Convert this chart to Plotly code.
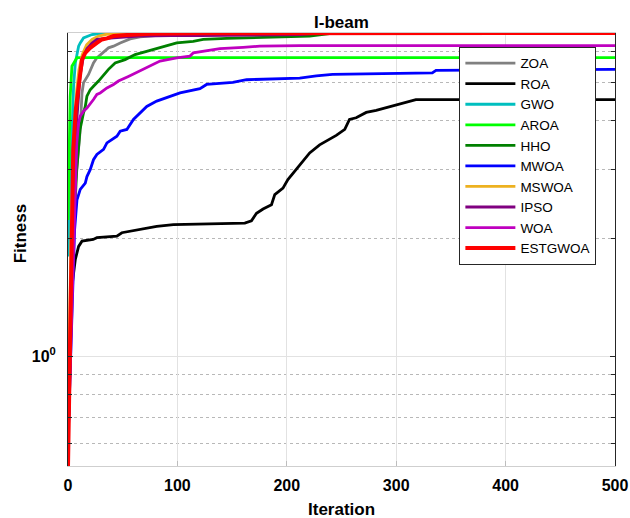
import plotly.graph_objects as go
import math

# ---------------- data ----------------
names = ["ZOA", "ROA", "GWO", "AROA", "HHO", "MWOA", "MSWOA", "IPSO", "WOA", "ESTGWOA"]
colors = ["#808080", "#000000", "#00BFBF", "#00FF00", "#008000", "#0000FF",
          "#EDB120", "#800080", "#BF00BF", "#FF0000"]

zoa_it = [0, 3, 6, 9.7, 11.2, 12.8, 14.2, 18.8, 23.3, 26.4, 32.5, 37, 41.6, 47.7, 56.8, 65.9, 79.6, 90.2, 120.6, 200, 500]
zoa_v = [0.6, 1.6, 2.6, 3.44, 3.8, 4.71, 5.0, 5.25, 5.62, 5.79, 6.01, 6.14, 6.2, 6.32, 6.47, 6.55, 6.6, 6.66, 6.69, 6.70, 6.70]

roa_it = [0, 3.6, 6.7, 9.7, 12.8, 23, 26.4, 44.7, 49.2, 65.9, 81.1, 96.3, 120.6, 161.6, 167.7, 172.3, 178.3, 186,
          189, 196.5, 201, 207.2, 213.3, 220.9, 230, 239, 245.2, 253, 257.3, 263.4, 272.6, 281.7, 293.8, 318, 500]
roa_v = [0.6, 1.51, 1.77, 1.91, 1.97, 1.99, 2.01, 2.03, 2.07, 2.11, 2.15, 2.17, 2.18, 2.19, 2.22, 2.32, 2.38, 2.44,
         2.59, 2.69, 2.83, 2.97, 3.12, 3.31, 3.47, 3.58, 3.67, 3.80, 4.03, 4.07, 4.20, 4.25, 4.34, 4.53, 4.53]

gwo_it = [0, 2, 4, 5.1, 6.7, 9.7, 11.2, 14.2, 21.9, 31, 48, 500]
gwo_v = [1.8, 2.8, 4.0, 4.9, 5.62, 6.2, 6.32, 6.51, 6.64, 6.69, 6.70, 6.70]

aroa_it = [0, 1, 2, 3.6, 5.5, 8.2, 500]
aroa_v = [2.23, 3.5, 4.6, 5.51, 5.65, 5.80, 5.80]

hho_it = [0, 4, 8, 11, 14.2, 15.8, 17.3, 20.3, 23.3, 27.9, 37, 43.1, 52.2, 61.3, 73.5, 85.7, 99.4, 114.5,
          123.6, 144.9, 160, 190.5, 220.9, 239, 500]
hho_v = [0.6, 1.8, 3.0, 3.8, 4.19, 4.35, 4.62, 4.8, 4.9, 5.05, 5.41, 5.62, 5.73, 5.9, 6.03, 6.17, 6.32, 6.38,
         6.45, 6.49, 6.51, 6.55, 6.58, 6.68, 6.70]

mwoa_it = [0, 3, 6, 8.2, 11.2, 15.8, 17.3, 20.3, 23.3, 26.4, 32.5, 35.6, 44.7, 47.7, 53.8, 59.8, 62.9, 72,
           81.1, 96.3, 102.4, 120.6, 126.7, 150.7, 163.2, 211.8, 227, 241.8, 333, 336.4, 500]
mwoa_v = [0.6, 1.2, 2.1, 2.51, 2.67, 2.77, 2.88, 3.0, 3.18, 3.28, 3.38, 3.51, 3.65, 3.76, 3.8, 4.03, 4.11, 4.35,
          4.49, 4.65, 4.71, 4.83, 4.95, 5.01, 5.09, 5.14, 5.21, 5.25, 5.30, 5.38, 5.41]

mswoa_it = [0, 3, 5, 8, 10, 13, 17, 22, 28, 35, 50, 500]
mswoa_v = [0.7, 2.2, 3.5, 4.8, 5.4, 5.9, 6.25, 6.45, 6.58, 6.65, 6.69, 6.70]

ipso_it = [0, 5, 8, 11, 14.2, 17.3, 21.9, 26.4, 41.6, 64.4, 94.8, 120.6, 211.8, 227, 500]
ipso_v = [0.6, 2.5, 4.0, 5.2, 5.85, 6.11, 6.32, 6.45, 6.51, 6.58, 6.60, 6.60, 6.64, 6.69, 6.70]

woa_it = [0, 5, 8, 9.7, 11.2, 14.2, 17.3, 23.3, 26.4, 29.4, 35.6, 41.6, 46.1, 55.2, 68.9, 78, 84.1, 99.4,
          111.5, 114.5, 129.7, 138.8, 160, 175.3, 211.8, 500]
woa_v = [0.6, 2.0, 3.5, 3.95, 4.11, 4.23, 4.31, 4.53, 4.67, 4.71, 4.85, 4.95, 5.05, 5.19, 5.41, 5.57, 5.68, 5.79,
         5.85, 5.96, 6.04, 6.11, 6.16, 6.2, 6.22, 6.22]

estgwoa_it = [0, 3.6, 4.8, 7.1, 9.7, 10.8, 12.8, 15.8, 20.3, 26.4, 31, 35.6, 41.6, 53.8, 75, 120, 250, 500]
estgwoa_v = [0.525, 1.99, 3.38, 4.27, 4.9, 5.25, 5.73, 5.96, 6.14, 6.32, 6.45, 6.49, 6.58, 6.62, 6.67, 6.69, 6.70, 6.70]

x_ticks = [0, 100, 200, 300, 400, 500]
y_major = [1]
y_minor = [0.6, 0.7, 0.8, 0.9, 2, 3, 4, 5, 6]

series_it = [zoa_it, roa_it, gwo_it, aroa_it, hho_it, mwoa_it, mswoa_it, ipso_it, woa_it, estgwoa_it]
series_v = [zoa_v, roa_v, gwo_v, aroa_v, hho_v, mwoa_v, mswoa_v, ipso_v, woa_v, estgwoa_v]

# ---------------- figure ----------------
fig = go.Figure()
for nm, col, xs, ys in zip(names, colors, series_it, series_v):
    fig.add_trace(go.Scatter(x=xs, y=ys, name=nm, mode="lines",
                             line=dict(color=col, width=4 if nm == "ESTGWOA" else 2.8)))

all_v = [v for s in series_v for v in s]
ymin, ymax = min(all_v), max(all_v)

FONT = "Liberation Sans, Arial, sans-serif"
fig.update_layout(
    width=630, height=518,
    margin=dict(l=68, r=15, t=33, b=52, autoexpand=False),
    paper_bgcolor="white", plot_bgcolor="white",
    font=dict(family=FONT, size=16, color="black"),
    title=dict(text="<b>I-beam</b>", x=0.5, xref="paper", xanchor="center",
               y=1 - 22 / 518, yanchor="middle", font=dict(size=17)),
    showlegend=True,
    legend=dict(x=0.7155, y=0.968, xanchor="left", yanchor="top",
                bgcolor="white", bordercolor="#262626", borderwidth=1,
                font=dict(size=13.5), tracegroupgap=0, itemwidth=50),
)
fig.update_xaxes(range=[0, 500], tickvals=x_ticks,
                 ticktext=[f"<b>{t}</b>" for t in x_ticks],
                 showgrid=True, gridcolor="#e2e2e2", gridwidth=1,
                 showline=True, linecolor="#cfcfcf", linewidth=1, mirror=True,
                 ticks="inside", ticklen=5, tickcolor="#bdbdbd",
                 zeroline=False, ticklabelstandoff=5, tickfont=dict(size=16))
fig.update_yaxes(type="log", range=[math.log10(ymin), math.log10(ymax)],
                 tickvals=y_major, ticktext=["<b>10<sup>0</sup></b>"],
                 showgrid=True, gridcolor="#e2e2e2", gridwidth=1,
                 showline=True, linecolor="#262626", linewidth=1, mirror="ticks",
                 ticks="inside", ticklen=5, tickcolor="#262626",
                 zeroline=False, ticklabelstandoff=8, tickfont=dict(size=16),
                 minor=dict(tickmode="array", tickvals=y_minor, ticks="inside", ticklen=4,
                            tickcolor="#262626", showgrid=True, gridcolor="#b8b8b8",
                            griddash="dot", gridwidth=1))

fig.add_annotation(text="<b>Iteration</b>", xref="paper", yref="paper",
                   x=0.5, y=-(510 - 466) / 433, xanchor="center", yanchor="middle",
                   showarrow=False, font=dict(size=17))
fig.add_annotation(text="<b>Fitness</b>", xref="paper", yref="paper",
                   x=(20 - 67.7) / 547.3, y=(466 - 233) / 433, xanchor="center", yanchor="middle",
                   textangle=-90, showarrow=False, font=dict(size=17))

fig.write_html("out.html")
